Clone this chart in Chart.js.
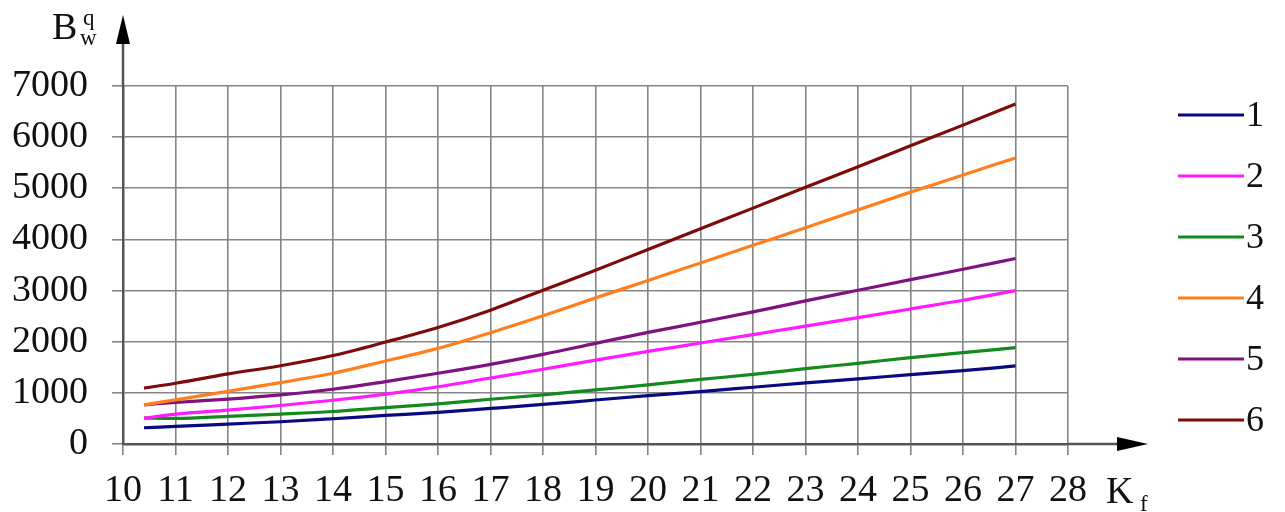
<!DOCTYPE html>
<html>
<head>
<meta charset="utf-8">
<script src="https://cdn.jsdelivr.net/npm/chart.js@4/dist/chart.umd.min.js"></script>
<style>
  html, body { margin: 0; padding: 0; background: #ffffff; }
  #wrap { width: 1285px; height: 512px; position: relative; }
</style>
</head>
<body>
<div id="wrap"><canvas id="chart" width="1285" height="512"></canvas></div>
<script>
// K_f values where each curve is sampled
const kf = [10.4, 11, 12, 13, 14, 15, 16, 17, 18, 19, 20, 21, 22, 23, 24, 25, 26, 27];

// B_w^q for curves 1..6
const curve1 = [318, 344, 390, 435, 494, 558, 620, 695, 773, 860, 945, 1025, 1110, 1195, 1273, 1357, 1435, 1526];
const curve2 = [506, 584, 662, 753, 855, 975, 1120, 1290, 1462, 1640, 1810, 1975, 2140, 2305, 2472, 2640, 2810, 3000];
const curve3 = [506, 500, 539, 584, 636, 710, 786, 875, 961, 1058, 1156, 1262, 1360, 1474, 1578, 1688, 1786, 1883];
const curve4 = [766, 864, 1032, 1201, 1383, 1623, 1870, 2175, 2506, 2857, 3195, 3540, 3885, 4230, 4578, 4925, 5260, 5594];
const curve5 = [766, 812, 877, 961, 1071, 1221, 1383, 1558, 1753, 1968, 2182, 2380, 2584, 2799, 3006, 3214, 3416, 3626];
const curve6 = [1092, 1188, 1370, 1530, 1730, 1994, 2279, 2617, 3006, 3396, 3805, 4210, 4612, 5019, 5422, 5831, 6235, 6647];

const seriesLabels = ['1', '2', '3', '4', '5', '6'];
const seriesValues = [curve1, curve2, curve3, curve4, curve5, curve6];
const seriesColors = ['#0a0a80', '#ff1aff', '#138a1e', '#ff7f1e', '#7f1280', '#7f0a0a'];

// Axis ranges and tick steps
const xMin = 10, xMax = 28, xStep = 1;
const yMin = 0, yMax = 7000, yStep = 1000;

const SERIF = '"Liberation Serif", "DejaVu Serif", serif';
const TEXT = '#111111';

const datasets = seriesValues.map((vals, i) => ({
  label: seriesLabels[i],
  data: vals.map((v, j) => ({ x: kf[j], y: v })),
  borderColor: seriesColors[i],
  backgroundColor: seriesColors[i],
  borderWidth: 3.2,
  pointRadius: 0,
  fill: false,
  cubicInterpolationMode: 'monotone'
}));

// Axis arrows, axis titles and the legend at the right
const decorations = {
  id: 'decorations',
  afterDraw(chart) {
    const ctx = chart.ctx;
    const xs = chart.scales.x, ys = chart.scales.y;
    const ox = xs.getPixelForValue(xMin);
    const oy = ys.getPixelForValue(yMin);
    ctx.save();

    // axis extensions with arrow heads
    ctx.strokeStyle = '#555555';
    ctx.lineWidth = 2.5;
    ctx.beginPath();
    ctx.moveTo(ox, ys.getPixelForValue(yMax));
    ctx.lineTo(ox, 40);
    ctx.moveTo(xs.getPixelForValue(xMax), oy);
    ctx.lineTo(1120, oy);
    ctx.stroke();
    ctx.fillStyle = '#000000';
    ctx.beginPath();
    ctx.moveTo(ox, 15);
    ctx.lineTo(ox - 7, 44);
    ctx.lineTo(ox + 7, 44);
    ctx.closePath();
    ctx.fill();
    ctx.beginPath();
    ctx.moveTo(1148, oy);
    ctx.lineTo(1117, oy - 7);
    ctx.lineTo(1117, oy + 7);
    ctx.closePath();
    ctx.fill();

    // axis titles
    ctx.fillStyle = TEXT;
    ctx.textBaseline = 'alphabetic';
    ctx.textAlign = 'left';
    ctx.font = '38px ' + SERIF;
    ctx.fillText('B', 52, 39);
    ctx.font = '23px ' + SERIF;
    ctx.fillText('q', 83, 25);
    ctx.fillText('w', 80, 45);
    ctx.font = '38px ' + SERIF;
    ctx.fillText('K', 1106, 503);
    ctx.font = '23px ' + SERIF;
    ctx.fillText('f', 1140, 511);

    // legend
    chart.data.datasets.forEach((ds, i) => {
      const y = 115 + i * 61;
      ctx.strokeStyle = ds.borderColor;
      ctx.lineWidth = 3.2;
      ctx.beginPath();
      ctx.moveTo(1178, y);
      ctx.lineTo(1244, y);
      ctx.stroke();
      ctx.fillStyle = TEXT;
      ctx.font = '36px ' + SERIF;
      ctx.textBaseline = 'middle';
      ctx.fillText(ds.label, 1246, y + 2);
    });
    ctx.restore();
  }
};

new Chart(document.getElementById('chart'), {
  type: 'line',
  data: { datasets },
  options: {
    responsive: false,
    animation: false,
    devicePixelRatio: 1,
    layout: { padding: { left: 0, right: 217, top: 86, bottom: 0 } },
    plugins: { legend: { display: false }, tooltip: { enabled: false } },
    scales: {
      x: {
        type: 'linear',
        min: xMin, max: xMax,
        afterFit(scale) { scale.height = 68; },
        ticks: {
          stepSize: xStep, autoSkip: false, maxRotation: 0,
          color: TEXT, padding: 13,
          font: { family: SERIF, size: 38 },
          callback: (v) => String(v)
        },
        grid: { color: '#858585', lineWidth: 1.6, tickLength: 11, tickColor: '#858585' },
        border: { display: true, color: '#555555', width: 2.5 }
      },
      y: {
        type: 'linear',
        min: yMin, max: yMax,
        afterFit(scale) { scale.width = 123; },
        ticks: {
          stepSize: yStep, color: TEXT, padding: 24,
          font: { family: SERIF, size: 38 },
          callback: (v) => String(v)
        },
        grid: { color: '#858585', lineWidth: 1.6, tickLength: 11, tickColor: '#858585' },
        border: { display: true, color: '#555555', width: 2.5 }
      }
    }
  },
  plugins: [decorations]
});
</script>
</body>
</html>
